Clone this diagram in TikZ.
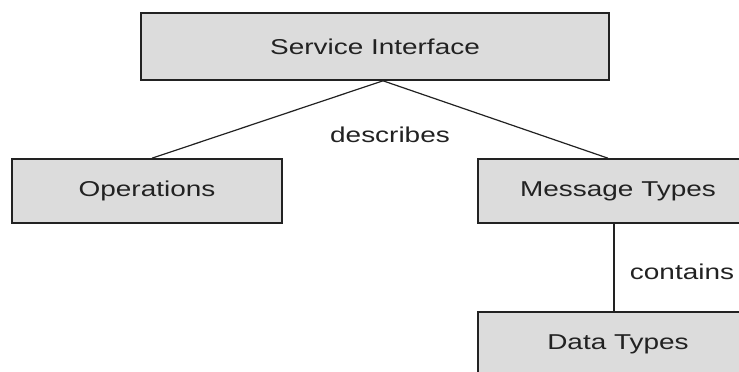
\documentclass[tikz,border=0pt]{standalone}
\usepackage{fontspec}
\setmainfont[FakeStretch=1.3]{Liberation Sans}
\usetikzlibrary{calc}
\definecolor{boxfill}{HTML}{DCDCDC}
\definecolor{ink}{HTML}{222222}
\begin{document}
\begin{tikzpicture}[x=1pt,y=-1pt,
  box/.style={draw=ink,line width=1.6pt,fill=boxfill,rectangle,inner sep=0pt,
    font=\fontsize{21.5}{26}\selectfont,text=ink},
  lbl/.style={inner sep=0pt,font=\fontsize{21.5}{26}\selectfont,text=ink},
  conn/.style={draw=ink,line width=1.2pt}]
\clip (0,0) rectangle (739,372);
\fill[white] (0,0) rectangle (739,372);
\node[box,minimum width=468pt,minimum height=67pt] (si) at (375,46.5) {Service Interface};
\node[box,minimum width=270pt,minimum height=64pt] (op) at (147,191) {Operations};
\node[box,minimum width=280pt,minimum height=64pt] (mt) at (618,191) {Message Types};
\node[box,minimum width=280pt,minimum height=64pt] (dt) at (618,344) {Data Types};
\draw[conn] ($(si.south)+(8,0)$) -- ($(op.north)+(5,0)$);
\draw[conn] ($(si.south)+(8,0)$) -- ($(mt.north)+(-10,0)$);
\draw[conn] ($(mt.south)+(-4,0)$) -- ($(dt.north)+(-4,0)$);
\node[lbl] (describes) at (390,135) {describes};
\node[lbl] (contains) at (682,272) {contains};
\end{tikzpicture}
\end{document}
